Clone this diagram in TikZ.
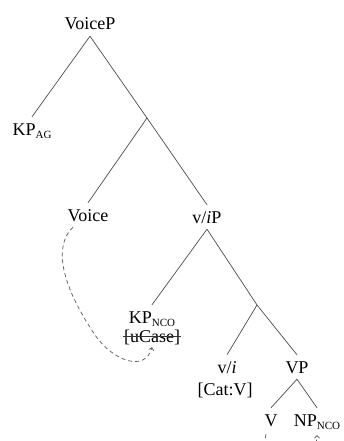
\documentclass[tikz,border=0pt]{standalone}
\usepackage{fontspec}
\setmainfont{Liberation Serif}
\usetikzlibrary{arrows.meta}
\newcommand{\sbs}[1]{\raisebox{-3.5pt}{\fontsize{11}{11}\selectfont #1}}
\begin{document}
\begin{tikzpicture}[x=1pt,y=-1pt,
  lbl/.style={anchor=base, font=\fontsize{18}{20}\selectfont, inner xsep=0pt, inner ysep=6pt, text height=12pt, text depth=0pt},
  br/.style={draw=black!70, line width=0.7pt},
  strike/.style={draw=black!80, line width=0.7pt},
  mv/.style={draw=black!65, line width=0.7pt, dash pattern=on 4pt off 3pt, -{Straight Barb[length=2.5pt,width=5pt]}}]
\useasboundingbox (0,0) rectangle (344,441);
\clip (0,0) rectangle (344,441);
\node[lbl] (voicep) at (90,30) {VoiceP};
\node[lbl] (kpag) at (32,135) {KP\sbs{AG}};
\coordinate (e1) at (147,118);
\node[lbl] (voice) at (88,221) {Voice};
\node[lbl] (vip) at (207,223) {v/\textit{i}P};
\node[lbl] (kpnco) at (152,323) {KP\sbs{NCO}};
\node[lbl,inner ysep=2pt] (ucase) at (152,342) {[uCase]};
\coordinate (e2) at (257,305);
\node[lbl] (vi) at (227,373) {v/\textit{i}};
\node[lbl,inner ysep=2pt] (cat) at (225,395) {[Cat:V]};
\node[lbl] (vp) at (297,373) {VP};
\node[lbl] (v) at (271,426) {V};
\node[lbl] (np) at (317,426) {NP\sbs{NCO}};
\draw[strike] ([xshift=-1pt,yshift=-8.5pt]ucase.north west) -- ([xshift=1pt,yshift=-8.5pt]ucase.north east);
\draw[br] (voicep.south) -- (kpag.north);
\draw[br] (voicep.south) -- (e1);
\draw[br] (e1) -- (voice.north);
\draw[br] (e1) -- (vip.north);
\draw[br] (vip.south) -- (kpnco.north);
\draw[br] (vip.south) -- (e2);
\draw[br] (e2) -- (vi.north);
\draw[br] (e2) -- (vp.north);
\draw[br] (vp.south) -- (v.north);
\draw[br] (vp.south) -- (np.north);
\draw[mv] ([xshift=-15pt]voice.south) .. controls +(-18,17) and +(-37,-55) .. (95,335)
  .. controls +(17,25) and +(-7,26) .. ([yshift=-3pt]ucase.south);
\draw[mv] ([xshift=-5pt,yshift=-2pt]v.south) .. controls +(-8,30) and +(0,30) .. ([yshift=-3pt]np.south);
\end{tikzpicture}
\end{document}
